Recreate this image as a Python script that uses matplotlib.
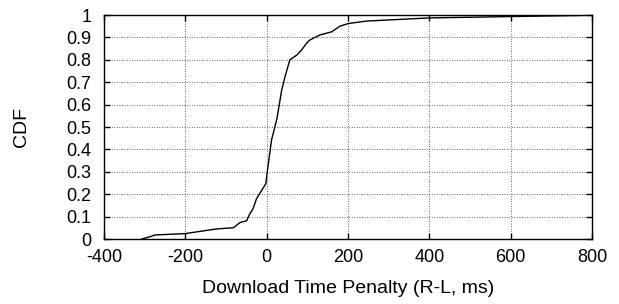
import matplotlib
matplotlib.use("Agg")
import matplotlib.pyplot as plt

penalty_ms = [-307, -287, -275, -201, -123, -82, -66, -49, -43, -33, -25, -12, -2, 1.5,
              12, 25, 37, 45, 57, 74, 86, 98, 106, 131, 160, 180, 201, 246, 401, 598, 775]
cdf = [0.0, 0.01, 0.018, 0.024, 0.045, 0.05, 0.073, 0.082, 0.107, 0.137, 0.18, 0.218, 0.247, 0.3,
       0.442, 0.535, 0.665, 0.724, 0.8, 0.821, 0.844, 0.874, 0.888, 0.911, 0.925, 0.95, 0.962,
       0.973, 0.987, 0.993, 0.998]
x_ticks = [-400, -200, 0, 200, 400, 600, 800]
y_ticks = [0, 0.1, 0.2, 0.3, 0.4, 0.5, 0.6, 0.7, 0.8, 0.9, 1]
y_ticklabels = ["0", "0.1", "0.2", "0.3", "0.4", "0.5", "0.6", "0.7", "0.8", "0.9", "1"]

plt.rcParams['font.family'] = ['Liberation Sans', 'DejaVu Sans']
plt.rcParams['axes.unicode_minus'] = False
fig = plt.figure(figsize=(6.19, 3.04), dpi=100)
ax = fig.add_axes([104/619, 1 - 239/304, (592-104)/619, (239-15)/304])
ax.plot(penalty_ms, cdf, color='black', lw=1.0)
ax.set_xlim(-400, 800)
ax.set_ylim(0, 1)
ax.set_xticks(x_ticks)
ax.set_yticks(y_ticks)
ax.set_yticklabels(y_ticklabels)
ax.grid(True, color='#333333', linestyle=(0, (1, 2)), lw=0.6)
ax.tick_params(direction='in', top=True, right=True, length=4, width=1, labelsize=13)
ax.tick_params(axis='y', pad=9)
ax.tick_params(axis='x', pad=7)
for s in ax.spines.values():
    s.set_linewidth(1.0)
ax.set_xlabel("Download Time Penalty (R-L, ms)", fontsize=14)
ax.set_ylabel("CDF", fontsize=14)
ax.xaxis.set_label_coords(0.5, -0.185)
ax.yaxis.set_label_coords(-0.169, 0.5)
ax.yaxis.label.set_va('center')
fig.savefig("out.png", dpi=100)
